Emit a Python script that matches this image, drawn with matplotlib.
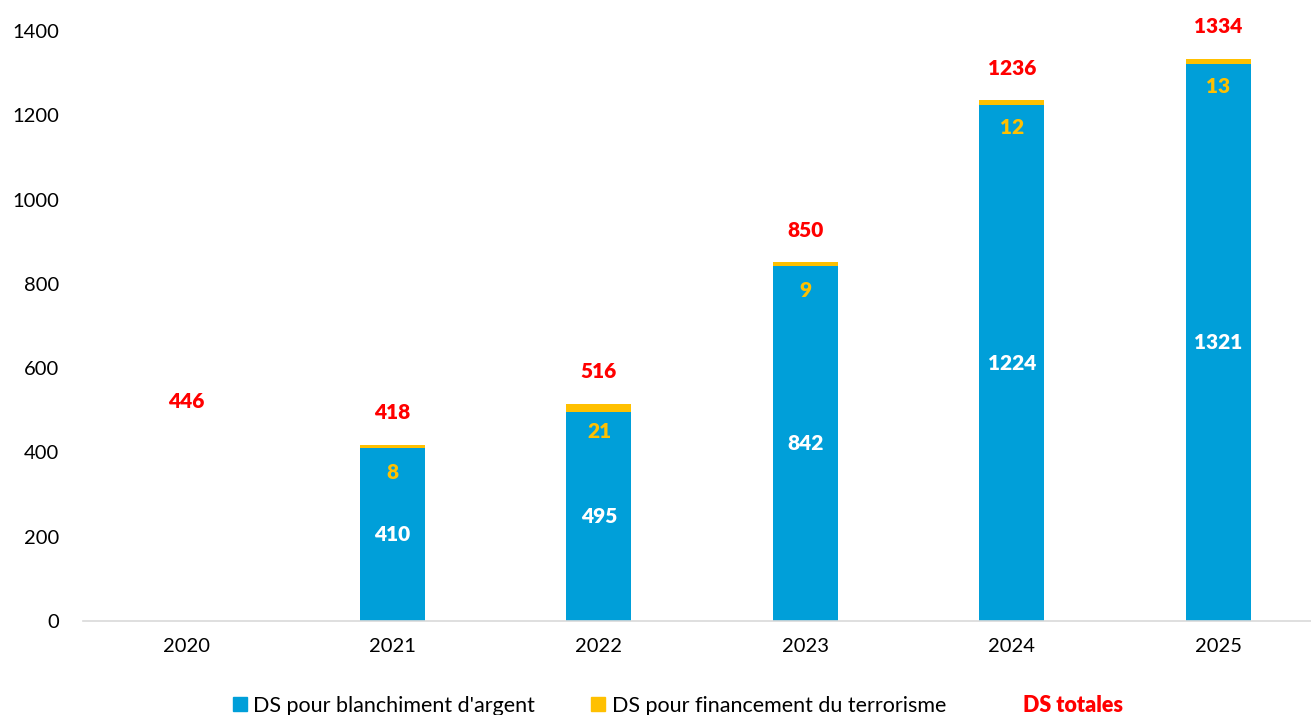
import matplotlib.pyplot as plt
from matplotlib.patches import Patch
from matplotlib.lines import Line2D

plt.rcParams['font.family'] = ['Lato', 'DejaVu Sans']

years = ["2020", "2021", "2022", "2023", "2024", "2025"]
ds_blanchiment = [0, 410, 495, 842, 1224, 1321]
ds_terrorisme = [0, 8, 21, 9, 12, 13]
ds_totales = [446, 418, 516, 850, 1236, 1334]

blue = "#009FD9"
yellow = "#FFC000"
red = "#FF0000"

fig = plt.figure(figsize=(13.11, 7.15), dpi=100)
ax = fig.add_axes([83 / 1311, 94 / 715, 1 - 83 / 1311, 590 / 715])

x = list(range(len(years)))
width = 0.315
ax.bar(x, ds_blanchiment, width, color=blue)
ax.bar(x, ds_terrorisme, width, bottom=ds_blanchiment, color=yellow)

for i in x:
    # blue segment value, only where there is a bar
    if ds_blanchiment[i] > 0:
        ax.text(i, ds_blanchiment[i] / 2, str(ds_blanchiment[i]), ha="center", va="center",
                color="white", fontsize=15, fontweight="heavy")
    if ds_terrorisme[i] > 0:
        ax.annotate(str(ds_terrorisme[i]), (i, ds_totales[i]), xytext=(0, -20), textcoords="offset points",
                    ha="center", va="center", color=yellow, fontsize=15, fontweight="heavy")
    ax.annotate(str(ds_totales[i]), (i, ds_totales[i]), xytext=(0, 23), textcoords="offset points",
                ha="center", va="center", color=red, fontsize=15, fontweight="heavy")

ax.set_xlim(-0.5, 5.45)
ax.set_ylim(0, 1400)
ax.set_yticks(range(0, 1401, 200))
ax.set_xticks(x)
ax.set_xticklabels(years)
ax.tick_params(axis="both", length=0, labelsize=14.5)
ax.tick_params(axis="y", pad=17)
ax.tick_params(axis="x", pad=12)
for s in ["top", "right", "left"]:
    ax.spines[s].set_visible(False)
ax.spines["bottom"].set_color("#d9d9d9")
ax.spines["bottom"].set_linewidth(1.2)

handles = [Patch(color=blue), Patch(color=yellow), Line2D([], [], linestyle="none")]
labels = ["DS pour blanchiment d'argent", "DS pour financement du terrorisme", "DS totales"]
leg = fig.legend(handles, labels, loc="lower center", bbox_to_anchor=(0.517, -0.028), ncol=3,
                 frameon=False, fontsize=15.5, handlelength=0.65, handleheight=0.65,
                 handletextpad=0.3, columnspacing=2.6)
leg.get_texts()[2].set_color(red)
leg.get_texts()[2].set_fontweight("heavy")

plt.savefig("out.png", dpi=100)
plt.close()
